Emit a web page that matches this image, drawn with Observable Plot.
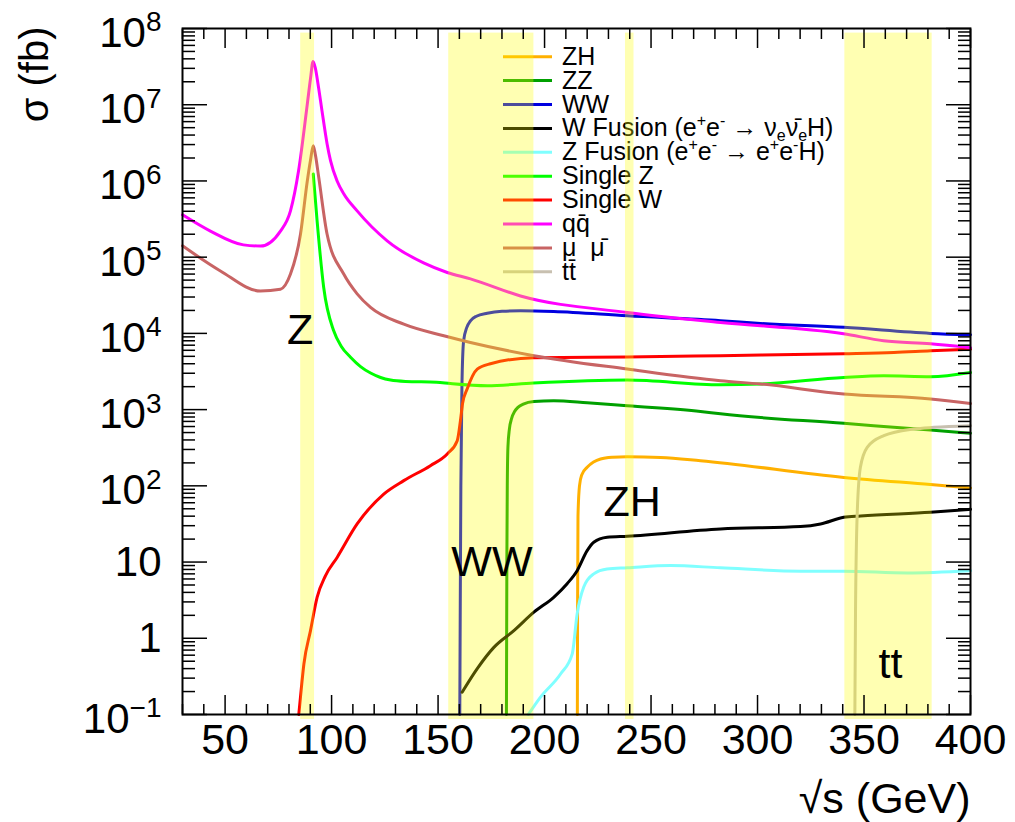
<!DOCTYPE html>
<html><head><meta charset="utf-8">
<script src="https://cdn.jsdelivr.net/npm/d3@7"></script>
<script src="https://cdn.jsdelivr.net/npm/@observablehq/plot@0.6"></script>
<style>body{margin:0;background:#fff;} #chart{width:1015px;height:822px;}</style>
</head><body><div id="chart"></div>
<script>
// ---------- data (sqrt(s) in GeV, sigma in fb) ----------
const seriesNames = ["ZH", "ZZ", "WW", "W Fusion", "Z Fusion", "Single Z", "Single W", "qq", "mumu", "tt"];
const seriesColors = ["#ffb000", "#00a000", "#0000e0", "#000000", "#80ffff", "#00ff00", "#ff0000", "#ff00ff", "#c86464", "#c8c0b0"];

const ZH = [[215.4,0.1],[215.5,2],[215.7,40],[216.4,100],[217.5,140],[220,175],[223,205],[226.3,225],[232,237],[238.8,241],[254.5,236],[273.2,214],[340.5,129],[381.2,104],[400,94]];
const ZZ = [[182.1,0.1],[182.3,10],[182.5,100],[182.8,320],[183.5,560],[184.5,760],[186,950],[187.5,1070],[190,1180],[195,1280],[204.3,1310],[220,1230],[238.8,1120],[273.2,946],[282.6,880],[340.5,660],[381.2,540],[400,490]];
const WW = [[160.2,0.1],[160.4,2],[160.7,100],[161.2,2000],[162,8000],[163.5,12000],[165.2,14600],[168,16800],[173.1,18400],[180,19500],[188.7,19800],[204.3,19400],[238.8,17000],[282.6,14700],[301.4,13500],[340.5,12000],[381.2,10000],[400,9600]];
const WFusion = [[161.3,0.196],[168.4,0.4],[176.2,0.76],[185.6,1.26],[195,2.2],[204.3,3.45],[210.6,5.2],[215.3,7.7],[220,14.1],[223.1,18.2],[229.4,21.1],[238.8,21.8],[282.6,27.2],[320.2,29.2],[329.6,31.6],[340.5,38.6],[348.4,40.3],[381.2,44.9],[400,49.2]];
const ZFusion = [[192.4,0.1],[198.1,0.169],[207.5,0.34],[213,0.625],[215.3,2.09],[218.4,4.7],[223.1,7.0],[229.4,8.1],[238.8,8.4],[259.1,9.0],[282.6,8.4],[320.2,7.6],[340.5,7.6],[370.3,7.2],[400,7.7]];
const SingleZ = [[91.4,1.23e6],[93.2,3.0e5],[96.3,4.0e4],[101,1.08e4],[104.5,6.8e3],[108.9,4.87e3],[113.6,3.67e3],[118.3,3.02e3],[123,2.64e3],[127.7,2.44e3],[134.7,2.34e3],[149.3,2.29e3],[155.8,2.2e3],[173.1,2.06e3],[194.8,2.23e3],[238.8,2.44e3],[282.6,2.12e3],[301.4,2.17e3],[340.5,2.64e3],[359.3,2.78e3],[381.2,2.7e3],[400,3.07e3]];
const SingleW = [[84.6,0.1],[85.4,0.17],[87,0.46],[90.1,1.26],[93.2,3.45],[97.1,6.6],[102.6,11.5],[112,31.6],[124.5,78],[133.9,117],[146.4,184],[154.3,262],[159,391],[160.5,716],[161.5,1200],[163.7,1880],[168.4,3400],[174.6,4000],[195,4800],[238.8,4900],[282.6,5100],[340.5,5400],[364,5600],[381.2,5900],[400,6200]];
const QQ = [[30,3.6e5],[43.1,2.2e5],[58.6,1.45e5],[66.6,1.4e5],[76,2.2e5],[80.7,4.05e5],[84.5,1.36e6],[88.6,1.02e7],[90.1,2.2e7],[91.3,3.7e7],[92.4,3.0e7],[93.9,1.67e7],[95.5,8.3e6],[97.9,3.06e6],[99.5,1.85e6],[102.6,1.0e6],[105.7,6.8e5],[112,4.05e5],[126.1,1.64e5],[143.2,8.4e4],[154.3,6.3e4],[165.2,5.2e4],[188.7,3.1e4],[238.8,1.88e4],[282.6,1.39e4],[340.4,9.9e3],[359.2,8.0e3],[381.2,7.3e3],[400,6.5e3]];
const MuMu = [[30,1.41e5],[47.8,6.6e4],[66.6,3.6e4],[76,3.8e4],[80.7,6.0e4],[85.4,2.0e5],[88.6,1.0e6],[90.1,1.87e6],[91.4,2.9e6],[92.4,2.2e6],[94,1.1e6],[97.9,2.0e5],[105.7,6.0e4],[112,3.3e4],[118.3,2.19e4],[133.9,1.32e4],[152.7,9.3e3],[165.2,7.6e3],[195,5.1e3],[238.8,3.4e3],[282.6,2.39e3],[301.4,2.17e3],[340.5,1.6e3],[381.2,1.38e3],[400,1.2e3]];
const TT = [[345.7,0.1],[346,2.1],[346.8,42.8],[348.3,175],[351.5,320],[359.3,455],[373.4,557],[382.8,585],[400,615]];
const seriesData = [ZH, ZZ, WW, WFusion, ZFusion, SingleZ, SingleW, QQ, MuMu, TT];

// highlighted energy windows (GeV)
const bandLo = [85.5, 155, 238, 341];
const bandHi = [92, 195, 242, 382];
const bandBottom = 0.086, bandTop = 8.7e7;

// annotations
const annText = ["Z", "WW", "ZH", "tt"];
const annX = [85.2, 175.3, 241.1, 362.4];
const annY = [7.3e3, 6.64, 40.6, 0.305];

// axis ticks
const xMajor = [50, 100, 150, 200, 250, 300, 350, 400];
const xMinor = d3.range(30, 401, 10).filter(v => v % 50 !== 0);
const yMajor = d3.range(-1, 9).map(e => Math.pow(10, e));
const yMinor = d3.range(-1, 8).flatMap(e => d3.range(2, 10).map(k => k * Math.pow(10, e)));

// ---------- chart ----------
const font = "'Liberation Sans', Arial, Helvetica, sans-serif";
const fmtY = d => { const e = Math.round(Math.log10(d)); return e === 0 ? "1" : e === 1 ? "10" : "10^" + e; };

const lineMarks = seriesData.map((pts, i) => Plot.line(pts, {
  x: d => d[0], y: d => d[1], stroke: seriesColors[i], strokeWidth: 3, curve: "monotone-x"
}));
const bands = bandLo.map((lo, i) => ({lo, hi: bandHi[i]}));

const svg = Plot.plot({
  width: 1015, height: 822,
  marginLeft: 182, marginRight: 45, marginTop: 28, marginBottom: 108,
  x: {domain: [30, 400]},
  y: {type: "log", domain: [0.1, 1e8]},
  style: {fontFamily: font, background: "#fff", color: "#000", overflow: "visible"},
  marks: [
    ...lineMarks,
    Plot.rect(bands, {x1: "lo", x2: "hi", y1: () => bandBottom, y2: () => bandTop, fill: "#ffff00", fillOpacity: 0.3}),
    Plot.text(annText, {x: (d, i) => annX[i], y: (d, i) => annY[i], text: d => d, fontSize: 43, lineAnchor: "bottom", fill: "#000"}),
    Plot.frame({stroke: "#000", strokeWidth: 2}),
    Plot.axisX(xMajor, {anchor: "bottom", tickSize: -19, tickPadding: 28, fontSize: 43, label: null, strokeWidth: 1.5, tickFormat: d => String(d)}),
    Plot.axisX(xMinor, {anchor: "bottom", tickSize: -10, label: null, strokeWidth: 1.5, tickFormat: () => ""}),
    Plot.axisX(xMajor, {anchor: "top", tickSize: -19, label: null, strokeWidth: 1.5, tickFormat: () => ""}),
    Plot.axisX(xMinor, {anchor: "top", tickSize: -10, label: null, strokeWidth: 1.5, tickFormat: () => ""}),
    Plot.axisY(yMajor, {anchor: "left", tickSize: -25, tickPadding: 46, fontSize: 42, label: null, strokeWidth: 1.5, tickFormat: fmtY}),
    Plot.axisY(yMinor, {anchor: "left", tickSize: -13, label: null, strokeWidth: 1.5, tickFormat: () => ""}),
    Plot.axisY(yMajor, {anchor: "right", tickSize: -25, label: null, strokeWidth: 1.5, tickFormat: () => ""}),
    Plot.axisY(yMinor, {anchor: "right", tickSize: -13, label: null, strokeWidth: 1.5, tickFormat: () => ""}),
    Plot.text(["√s (GeV)"], {frameAnchor: "bottom-right", text: d => d, textAnchor: "end", lineAnchor: "bottom", dy: 98, fontSize: 43}),
    Plot.text(["σ (fb)"], {frameAnchor: "top-left", text: d => d, rotate: -90, textAnchor: "end", lineAnchor: "bottom", dx: -135, dy: -2, fontSize: 40})
  ]
});

// superscripts on y tick labels
svg.querySelectorAll("text").forEach(t => {
  const s = t.textContent;
  if (/^10\^/.test(s)) {
    const exp = s.slice(3).replace("-", "\u2212");
    t.textContent = "";
    const a = document.createElementNS("http://www.w3.org/2000/svg", "tspan");
    a.setAttribute("dy", "5"); a.textContent = "10";
    const b = document.createElementNS("http://www.w3.org/2000/svg", "tspan");
    b.setAttribute("dy", "-15.5"); b.setAttribute("font-size", "28"); b.textContent = exp;
    t.append(a, b);
  }
});

// legend (inside the frame, beneath the translucent bands)
const BAR = "\u0304";
const legendRows = [
  [{t: "ZH"}],
  [{t: "ZZ"}],
  [{t: "WW"}],
  [{t: "W Fusion (e"}, {t: "+", s: "sup"}, {t: "e"}, {t: "-", s: "sup"}, {t: " \u2192 \u03bd"}, {t: "e", s: "sub"}, {t: "\u03bd" + BAR}, {t: "e", s: "sub"}, {t: "H)"}],
  [{t: "Z Fusion (e"}, {t: "+", s: "sup"}, {t: "e"}, {t: "-", s: "sup"}, {t: " \u2192 e"}, {t: "+", s: "sup"}, {t: "e"}, {t: "-", s: "sup"}, {t: "H)"}],
  [{t: "Single Z"}],
  [{t: "Single W"}],
  [{t: "qq" + BAR}],
  [{t: "\u03bc  \u03bc" + BAR}],
  [{t: "tt" + BAR}]
];
const lg = d3.create("svg:g").attr("font-family", font).attr("font-size", 25).attr("text-anchor", "start");
legendRows.forEach((segs, i) => {
  const y = 56.7 + i * 23.9;
  lg.append("line").attr("x1", 503).attr("x2", 552).attr("y1", y).attr("y2", y)
    .attr("stroke", seriesColors[i]).attr("stroke-width", 3);
  const tx = lg.append("text").attr("x", 562).attr("y", y + 8).attr("fill", "#000")
    .attr("text-anchor", "start").style("white-space", "pre");
  let shift = 0;
  segs.forEach(seg => {
    const sp = tx.append("tspan").text(seg.t);
    let target = 0;
    if (seg.s === "sup") { target = -10; sp.attr("font-size", 16); }
    else if (seg.s === "sub") { target = 5; sp.attr("font-size", 16); }
    sp.attr("dy", target - shift);
    shift = target;
  });
});
const rectG = svg.querySelector('g[aria-label="rect"]');
if (rectG) svg.insertBefore(lg.node(), rectG); else svg.appendChild(lg.node());

document.getElementById("chart").appendChild(svg);
</script>
</body></html>
